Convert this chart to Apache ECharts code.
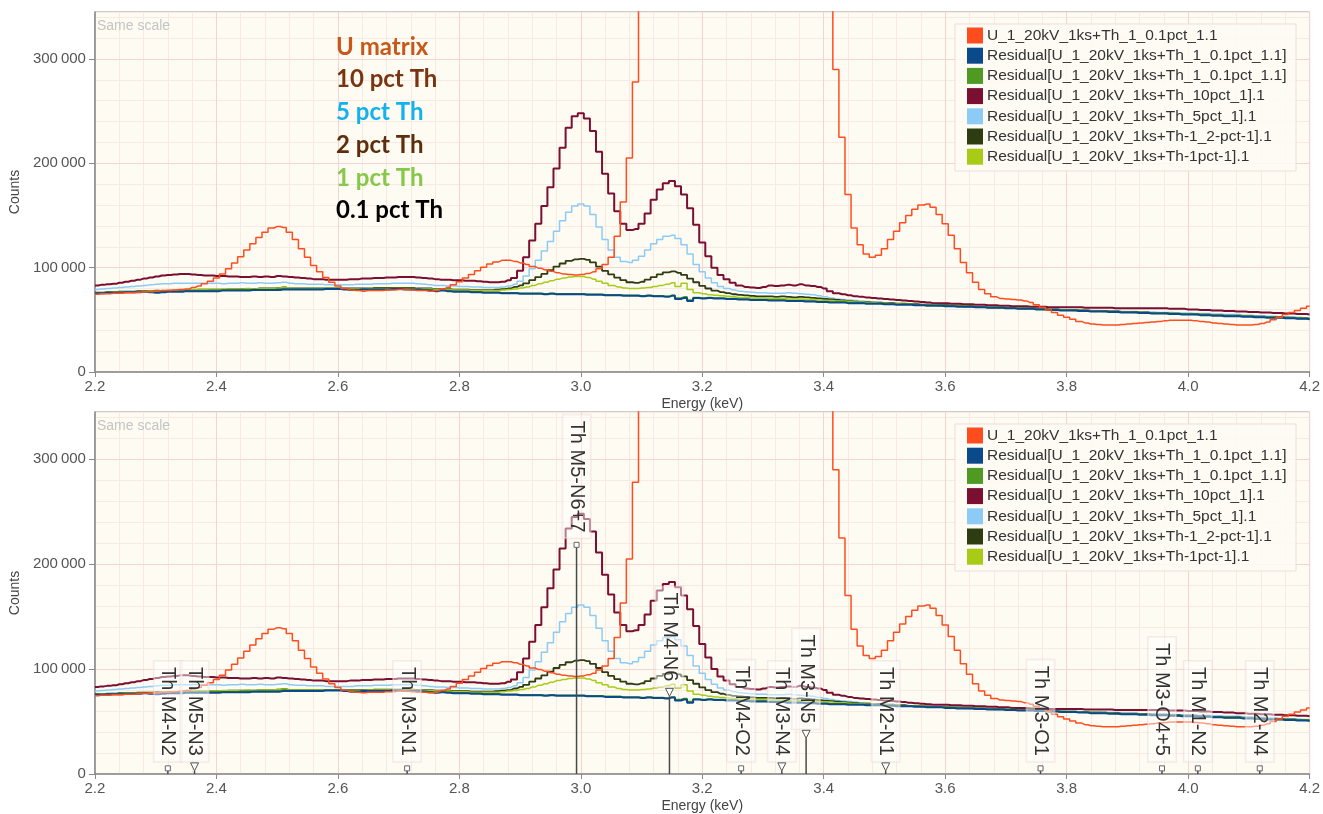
<!DOCTYPE html>
<html><head><meta charset="utf-8">
<script src="https://cdn.jsdelivr.net/npm/echarts@6/dist/echarts.min.js"></script>
<style>html,body{margin:0;padding:0;background:#fff}#c{width:1323px;height:814px}</style>
</head><body><div id="c"></div><script>
// Energy channels (keV)
const energies = [
2.20,2.21,2.22,2.23,2.24,2.25,2.26,2.27,2.28,2.29,
2.30,2.31,2.32,2.33,2.34,2.35,2.36,2.37,2.38,2.39,
2.40,2.41,2.42,2.43,2.44,2.45,2.46,2.47,2.48,2.49,
2.50,2.51,2.52,2.53,2.54,2.55,2.56,2.57,2.58,2.59,
2.60,2.61,2.62,2.63,2.64,2.65,2.66,2.67,2.68,2.69,
2.70,2.71,2.72,2.73,2.74,2.75,2.76,2.77,2.78,2.79,
2.80,2.81,2.82,2.83,2.84,2.85,2.86,2.87,2.88,2.89,
2.90,2.91,2.92,2.93,2.94,2.95,2.96,2.97,2.98,2.99,
3.00,3.01,3.02,3.03,3.04,3.05,3.06,3.07,3.08,3.09,
3.10,3.11,3.12,3.13,3.14,3.15,3.16,3.17,3.18,3.19,
3.20,3.21,3.22,3.23,3.24,3.25,3.26,3.27,3.28,3.29,
3.30,3.31,3.32,3.33,3.34,3.35,3.36,3.37,3.38,3.39,
3.40,3.41,3.42,3.43,3.44,3.45,3.46,3.47,3.48,3.49,
3.50,3.51,3.52,3.53,3.54,3.55,3.56,3.57,3.58,3.59,
3.60,3.61,3.62,3.63,3.64,3.65,3.66,3.67,3.68,3.69,
3.70,3.71,3.72,3.73,3.74,3.75,3.76,3.77,3.78,3.79,
3.80,3.81,3.82,3.83,3.84,3.85,3.86,3.87,3.88,3.89,
3.90,3.91,3.92,3.93,3.94,3.95,3.96,3.97,3.98,3.99,
4.00,4.01,4.02,4.03,4.04,4.05,4.06,4.07,4.08,4.09,
4.10,4.11,4.12,4.13,4.14,4.15,4.16,4.17,4.18,4.19,
4.20];

// Counts (thousands) per channel
const uMatrix = [
74.5,75,75,75.5,75.5,76,76,76.5,77,77,
77.5,78,78,78.5,79,79.5,81,82.5,84.5,87,
90,94,99,104.5,110.5,117,123,129,134,138,
139.5,138.5,134,127,118,110,102,96,90.5,86,
82.5,80,78.5,78,77.5,78,78,78,78.5,78.5,
79,79,78.5,78,78,77.5,78,79.5,81,83.5,
86.5,90,93.5,97,100.5,103.5,105.5,107,107,106,
104.5,103,101,99.5,98,96.5,95,94,93.5,93,
93.5,94.5,96,99,103,110,130,163,205,278,
360,450,600,800,1000,1150,1250,1280,1200,1050,
880,720,600,520,480,470,490,540,620,700,
780,830,850,840,800,740,660,580,500,440,
400,360,290,225,170,138,122,113,110,112,
118,127,135,143,150,156,160,161,158,151,
142,131,118,105,95,86,79,75,72,70.5,
70,69.5,69,68,66.5,64.5,62,59.5,57,54.5,
52.5,50.5,48.5,47,46,45.5,45,45,45,45.5,
46,46.5,47,47.5,48,48.5,49,49.5,49.5,49.5,
49.5,49,48.5,48,47,46.5,46,45.5,45,45,
45,45.5,46.5,48,50,52.5,55,57,59,61,
63];

const resid01a = [
75.5,75.5,76,76,76,76.5,76.5,76.5,77,76.5,
76,76.5,77,77,77,77.5,77.5,77.5,77.5,77.5,
77.5,78,78,78,78,78,78.5,78.5,78.5,78.5,
78.5,79,79,79,79,79,79,79,79.5,79.5,
79.5,79,78.5,78.5,79,79,79,79,79,79.5,
79.5,79,79,79,78.5,78,77.5,78,77.5,77,
77,77,76.5,76.5,76,76,76,75.5,75.5,75.5,
75,75,75,75,74.5,75,74.5,74.5,74.5,74.5,
74.5,74,74,74,73.5,73.5,73.5,73,73,73,
72.5,73,72.5,72.5,72,73,70,71,68,71,
70.5,71,70.5,70.5,70,70,69.5,69.5,69,69,
69,68.5,68.5,68.5,68,68,68,67.5,67.5,67,
67,66.5,66.5,66.5,66,66,66,65.5,65.5,65.5,
65,65,64.5,64.5,64.5,64,64,63.5,63.5,63.5,
63,63,62.5,62.5,62.5,62,62,61.5,61.5,61.5,
61,61,60.5,60.5,60.5,60,60,59.5,59.5,59,
59,59,58.5,58.5,58,58,58,57.5,57.5,57,
57,57,56.5,56.5,56,56,56,55.5,55.5,55,
55,55,54.5,54.5,54,54,53.5,53.5,53.5,53,
53,52.5,52.5,52,52,52,51.5,51.5,51,51,
50.5];

const resid01b = [
76,76,76.5,76.5,76.5,77,77,77,77.5,77,
77,77,77.5,77.5,78,78,78,78,78,78.5,
78.5,78.5,78.5,78.5,79,79,79,79,79,79,
79.5,80,79.5,79.5,79.5,79.5,79.5,79.5,80,80,
80,79.5,79,79,79.5,79.5,79.5,79.5,79.5,80,
80,79.5,79.5,79.5,79,78.5,78,78.5,78,77.5,
77.5,77.5,77,77,76.5,76.5,76.5,76,76,76,
75.5,75.5,75.5,75.5,75,75.5,75,75,75,75,
75,74.5,74.5,74.5,74,74,74,73.5,73.5,73.5,
73,73.5,73,73,72.5,73.5,71,72,69,71.5,
71,71.5,71,71,70.5,70.5,70,70,69.5,69.5,
69.5,69,69,69,68.5,68.5,68.5,68,68,67.5,
67.5,67,67,67,66.5,66.5,66.5,66,66,66,
65.5,65.5,65,65,65,64.5,64.5,64,64,64,
63.5,63.5,63,63,63,62.5,62.5,62,62,62,
61.5,61.5,61,61,61,60.5,60.5,60,60,59.5,
59.5,59.5,59,59,58.5,58.5,58.5,58,58,57.5,
57.5,57.5,57,57,56.5,56.5,56.5,56,56,55.5,
55.5,55.5,55,55,54.5,54.5,54,54,54,53.5,
53.5,53,53,52.5,52.5,52.5,52,52,51.5,51.5,
51];

const resid10 = [
83,83.5,84,84.5,85.5,86.5,87.5,88.5,89.5,90.5,
91.5,92.5,93,93.5,94,94,93.5,93,92.5,92.5,
92,92,91.5,91.5,91,91,91.5,91,91.5,91,
92,91.5,91,90.5,90,89.5,89,89,88.5,88.5,
88.5,88.5,89,89,89.5,89.5,90,90,90.5,90.5,
91,91,91,90.5,90,89.5,89,88.5,88.5,88,
88,87.5,87.5,87,86.5,86,86,86.5,88,90,
97,110,126,142,159,177,195,215,234,245,
248,243,231,211,190,171,154,142,136,137,
142,152,165,175,181,183,178,170,157,141,
124,111,100,93,89,85.5,83,81.5,81,80.5,
81.5,83,82.5,83,83.5,83,84,83,82.5,81.5,
80,77.5,75.5,74.5,73.5,72.5,72,71.5,71,70.5,
70,69.5,69,68.5,68,67.5,67,66.5,66,66,
66,65.5,65.5,65,65,64.5,64.5,64,64,63.5,
63.5,63,63,63,62.5,62.5,62.5,62,62,62,
62,62,62,61.5,61.5,61.5,61.5,61.5,61,61,
61,61,61,61,61,61,61,60.5,60.5,60.5,
60,60,59.5,59.5,59,59,58.5,58.5,58,58,
57.5,57.5,57,57,56.5,56.5,56,56,55.5,55.5,
55];

const resid5 = [
79,79.5,80,80.5,81,81.5,82,82.5,83,83.5,
84,84.5,84.5,85,85,85,85,85,85,85,
85,84.5,85,85,85.5,85,85,85.5,85,85,
85.5,86,85,84.5,84.5,84,84,84,83.5,83.5,
83.5,83.5,83.5,84,84,84,84.5,84.5,84.5,85,
85,85,85,84.5,84,83.5,83,83,82.5,82.5,
82,82,81.5,81.5,81,81,81,81.5,82.5,84,
87,92,99,107,116,125,135,145,153,159,
161,159,151,139,127,117,110,106,105,107,
111,117,123,127,130,131,128,122,113,103,
96,90,85.5,82,80,78.5,77.5,77,76.5,76,
76,75.5,75.5,75.5,76,75.5,75,74.5,74,73,
72,71,70,69.5,69,68.5,68,67.5,67,66.5,
66,65.5,65.5,65,65,64.5,64.5,64,64,63.5,
63.5,63,63,62.5,62.5,62,62,62,61.5,61.5,
61.5,61,61,61,60.5,60.5,60.5,60,60,60,
59.5,59.5,59.5,59,59,59,58.5,58.5,58.5,58,
58,58,57.5,57.5,57.5,57,57,57,56.5,56.5,
56.5,56,56,56,55.5,55.5,55,55,55,54.5,
54.5,54,54,53.5,53.5,53,53,52.5,52.5,52,
52];

const resid2 = [
76,76,76.5,76.5,77,77,77,77.5,77.5,77.5,
78,77.5,78,78,78.5,78.5,78.5,79,79,79,
79,79,79.5,79.5,79.5,79.5,79.5,80,80,80,
80.5,81,80,80,80,80,80,80,80,80,
80,80,80,80,80,80,80.5,80.5,80.5,80.5,
80.5,80.5,80.5,80,80,80,79.5,79.5,79.5,79,
79,79,78.5,78.5,78.5,78.5,79,79.5,80,81.5,
83,85,88,91,94,97.5,101,104,106.5,108,
108.5,107.5,105,101,97,93.5,90.5,88,86,85.5,
86.5,88.5,91,93.5,95.5,96.5,95,93,89.5,86,
82.5,80,78,76.5,75.5,74.5,74,73.5,73,72.5,
72.5,72.5,72,72.5,72,71.5,72,71.5,71,70.5,
70,69.5,69,68.5,68,67.5,67,67,66.5,66.5,
66,66,65.5,65.5,65,65,64.5,64.5,64,64,
64,63.5,63.5,63,63,62.5,62.5,62,62,62,
61.5,61.5,61,61,61,60.5,60.5,60,60,59.5,
59.5,59.5,59,59,58.5,58.5,58.5,58,58,57.5,
57.5,57.5,57,57,56.5,56.5,56.5,56,56,55.5,
55.5,55.5,55,55,54.5,54.5,54,54,54,53.5,
53.5,53,53,52.5,52.5,52.5,52,52,51.5,51.5,
51];

const resid1 = [
75.5,76,76,76.5,76.5,77,77,77,77.5,77.5,
77.5,78,78,78,78.5,78.5,79,79,79,79,
79,79.5,79.5,79.5,79.5,80,79.5,80,80,80,
80.5,81,80,80,80,80,80,80,80,80,
80,79.5,79.5,79.5,79.5,80,80,80,80,80,
80,80,80,79.5,79.5,79.5,79,79,79,78.5,
78.5,78.5,78,78,78,78,78,78.5,79,79.5,
80.5,81.5,83,84.5,86,87.5,89,90,91,91.5,
91.5,90.5,89,87,85,83,81.5,80.5,80,80,
80.5,81,82,83,84,85.5,82,85,79,76,
75,74,73.5,73,72.5,72,71.5,71.5,71,71,
71,70.5,70.5,70.5,70,70,70,69.5,69.5,69,
68.5,68.5,68,68,67.5,67,67,66.5,66.5,66,
66,65.5,65.5,65,65,64.5,64.5,64,64,63.5,
63.5,63.5,63,63,62.5,62.5,62,62,61.5,61.5,
61.5,61,61,60.5,60.5,60.5,60,60,59.5,59.5,
59.5,59,59,58.5,58.5,58.5,58,58,57.5,57.5,
57.5,57,57,56.5,56.5,56.5,56,56,55.5,55.5,
55.5,55,55,54.5,54.5,54.5,54,54,53.5,53.5,
53.5,53,53,52.5,52.5,52,52,52,51.5,51.5,
51];

const seriesNames = [
  'U_1_20kV_1ks+Th_1_0.1pct_1.1',
  'Residual[U_1_20kV_1ks+Th_1_0.1pct_1.1]',
  'Residual[U_1_20kV_1ks+Th_1_0.1pct_1.1]',
  'Residual[U_1_20kV_1ks+Th_10pct_1].1',
  'Residual[U_1_20kV_1ks+Th_5pct_1].1',
  'Residual[U_1_20kV_1ks+Th-1_2-pct-1].1',
  'Residual[U_1_20kV_1ks+Th-1pct-1].1'
];
const seriesValues = [uMatrix, resid01a, resid01b, resid10, resid5, resid2, resid1];

// X-ray line markers (bottom panel)
const markerNames = ['Th M4-N2','Th M5-N3','Th M3-N1','Th M5-N6+7','Th M4-N6','Th M4-O2','Th M3-N4','Th M3-N5','Th M2-N1','Th M3-O1','Th M3-O4+5','Th M1-N2','Th M2-N4'];
const markerEnergies = [2.32,2.364,2.714,2.993,3.146,3.264,3.331,3.371,3.502,3.757,3.957,4.016,4.118];
const markerHeights = [3,3,3,216,74,3,3,34,3,3,3,3,3];

const yTickValues = [0,100,200,300];
const annotTexts = ['U matrix','10 pct Th','5 pct Th','2 pct Th','1 pct Th','0.1 pct Th'];

// ---- styles ----
const seriesColors = ['#FF4D1F','#0B4A8A','#4E9A22','#7A0F32','#8DCBF7','#2E3C12','#A8CC16'];
const lineWidths = [1.5,2,1.5,2,1.5,1.8,1.5];
const drawOrder = [3,4,5,6,2,1,0];
const annotColors = ['#C8581A','#7A3410','#12B2EE','#5E2E0C','#86C84A','#000000'];
const triangleMarkers = ['Th M5-N3','Th M4-N6','Th M3-N4','Th M3-N5','Th M2-N1'];
const FONT = '"Liberation Sans", Arial, sans-serif';

const chart = echarts.init(document.getElementById('c'), null, {renderer:'canvas'});

const grids = [
  {left:90, right:13, top:12, height:360, show:true, backgroundColor:'#FDFBF2', borderColor:'#9a9a9a', borderWidth:1},
  {left:90, right:13, top:412, height:362, show:true, backgroundColor:'#FDFBF2', borderColor:'#9a9a9a', borderWidth:1}
];

const xAxes = [], yAxes = [];
[0,1].forEach(g => {
  xAxes.push({
    type:'value', gridIndex:g, min:2.2, max:4.2, interval:0.2, z:1,
    name:'Energy (keV)', nameLocation:'middle', nameGap:25,
    nameTextStyle:{fontFamily:FONT, fontSize:14, color:'#444'},
    axisLine:{show:true, onZero:false, lineStyle:{color:'#8a8a8a', width:1.5}},
    axisTick:{show:true, inside:false, length:5, lineStyle:{color:'#8a8a8a'}},
    axisLabel:{fontFamily:FONT, fontSize:15, color:'#555', margin:7, formatter:v => v.toFixed(1)},
    splitLine:{show:true, lineStyle:{color:'#F4D4CE', width:1}}
  });
  xAxes.push({
    type:'value', gridIndex:g, min:2.2, max:4.2, interval:0.04, z:0, position:'bottom',
    axisLine:{show:false}, axisTick:{show:false}, axisLabel:{show:false},
    splitLine:{show:true, lineStyle:{color:'#F8E9E3', width:1}}
  });
  yAxes.push({
    type:'value', gridIndex:g, min:0, max:345, interval:100, z:1,
    name:'Counts', nameLocation:'middle', nameGap:62,
    nameTextStyle:{fontFamily:FONT, fontSize:14, color:'#444'},
    axisLine:{show:true, onZero:false, lineStyle:{color:'#8a8a8a', width:1.5}},
    axisTick:{show:true, length:6, lineStyle:{color:'#8a8a8a'}, customValues:yTickValues},
    axisLabel:{fontFamily:FONT, fontSize:15, color:'#555', margin:9, customValues:yTickValues,
      formatter:v => v === 0 ? '0' : v + '\u2009000'},
    splitLine:{show:true, lineStyle:{color:'#F4D4CE', width:1}}
  });
  yAxes.push({
    type:'value', gridIndex:g, min:0, max:345, interval:20, z:0, position:'left',
    axisLine:{show:false}, axisTick:{show:false}, axisLabel:{show:false},
    splitLine:{show:true, lineStyle:{color:'#F8E9E3', width:1}}
  });
});

const series = [];
[0,1].forEach(g => {
  drawOrder.forEach(i => {
    series.push({
      type:'line', name:seriesNames[i], xAxisIndex:2*g, yAxisIndex:2*g,
      data: energies.map((e,k) => [e, seriesValues[i][k]]),
      step:'middle', symbol:'none', showSymbol:false, clip:true,
      lineStyle:{color:seriesColors[i], width:lineWidths[i]},
      itemStyle:{color:seriesColors[i]}, silent:true, z:2
    });
  });
});

function renderMarker(params, api) {
  const idx = api.value(2);
  const base = api.coord([api.value(0), 0]);
  const top = api.coord([api.value(0), api.value(1)]);
  const x = top[0], y = top[1];
  const name = markerNames[idx];
  const children = [
    {type:'line', shape:{x1:x, y1:base[1], x2:x, y2:y}, style:{stroke:'#4a4a4a', lineWidth:1.5}},
    {type:'text', x:x, y:y-9, rotation:-Math.PI/2,
      style:{text:name, font:'20px ' + FONT, fill:'#333', align:'right', verticalAlign:'middle',
        textAlign:'right', textVerticalAlign:'middle',
        backgroundColor:'rgba(255,255,255,0.45)', borderColor:'rgba(236,210,210,0.45)', borderWidth:1, padding:[4,6,4,6]}}
  ];
  if (triangleMarkers.indexOf(name) >= 0) {
    children.push({type:'polygon', shape:{points:[[x-4,y-8],[x+4,y-8],[x,y]]}, style:{fill:'#fff', stroke:'#555', lineWidth:1}});
  } else {
    children.push({type:'rect', shape:{x:x-2.5, y:y-5, width:5, height:5}, style:{fill:'#fff', stroke:'#666', lineWidth:1}});
  }
  return {type:'group', children:children};
}

series.push({
  type:'custom', xAxisIndex:2, yAxisIndex:2, clip:false, silent:true, z:10,
  encode:{x:0, y:1},
  data: markerNames.map((n,i) => [markerEnergies[i], markerHeights[i], i]),
  renderItem: renderMarker
});

const graphic = [];
[0,1].forEach(g => {
  const oy = g === 0 ? 0 : 400;
  graphic.push({type:'text', x:97, y:26+oy, z:20,
    style:{text:'Same scale', fill:'#c4c4c4', font:'14px ' + FONT, verticalAlign:'middle', textVerticalAlign:'middle'}});
  graphic.push({type:'rect', z:20, shape:{x:955, y:24+oy, width:341, height:147},
    style:{fill:'rgba(253,251,244,0.88)', stroke:'#F1DCD8', lineWidth:1}});
  seriesNames.forEach((n,i) => {
    const cy = 35.5 + oy + i*20.2;
    graphic.push({type:'rect', z:21, shape:{x:967, y:cy-8, width:16, height:16}, style:{fill:seriesColors[i]}});
    graphic.push({type:'text', z:21, x:987, y:cy,
      style:{text:n, fill:'#333', font:'15.5px ' + FONT, verticalAlign:'middle', textVerticalAlign:'middle'}});
  });
});
annotTexts.forEach((t,i) => {
  graphic.push({type:'text', z:20, x:336, y:47 + i*32.7,
    style:{text:t, fill:annotColors[i], font:'bold 24px Lato, "Open Sans", sans-serif', verticalAlign:'middle', textVerticalAlign:'middle'}});
});

chart.setOption({
  animation:false,
  backgroundColor:'#ffffff',
  grid:grids,
  xAxis:xAxes,
  yAxis:yAxes,
  series:series,
  graphic:graphic
});
</script></body></html>
